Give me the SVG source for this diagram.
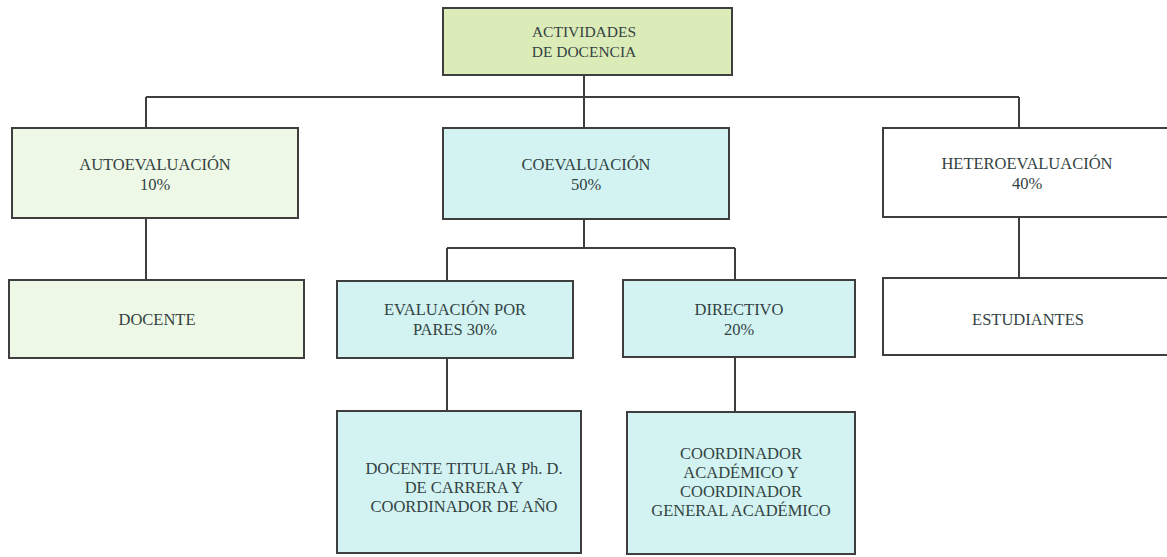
<svg xmlns="http://www.w3.org/2000/svg" width="1167" height="557" viewBox="0 0 1167 557">
<style>
.box{stroke:#3e3e3e;stroke-width:2}
.g1{fill:#dcecb8}
.g2{fill:#eef8e6}
.c{fill:#d2f3f2}
.w{fill:#ffffff}
.t{font-family:"Liberation Serif","DejaVu Serif",serif;font-size:16.5px;fill:#334242;text-anchor:middle}
.s{font-size:15.5px}
.ln{stroke:#3e3e3e;stroke-width:2;fill:none}
</style>
<rect width="1167" height="557" fill="#ffffff"/>
<g id="connectors">
<path class="ln" d="M584 75V97M146 97H1019M146 97V128M584 97V128M1019 97V128"/>
<path class="ln" d="M146 218V280"/>
<path class="ln" d="M584 219V248M447 248H735M447 248V281M735 248V280"/>
<path class="ln" d="M1019 217V278"/>
<path class="ln" d="M447 358V411"/>
<path class="ln" d="M735 357V412"/>
</g>
<g id="n-actividades">
<rect class="box g1" x="443" y="8" width="289" height="67"/>
<text class="t s" x="584" y="37">ACTIVIDADES</text>
<text class="t s" x="584" y="57">DE DOCENCIA</text>
</g>
<g id="n-auto">
<rect class="box g2" x="12" y="128" width="286" height="90"/>
<text class="t" x="155" y="170">AUTOEVALUACIÓN</text>
<text class="t" x="155" y="190">10%</text>
</g>
<g id="n-coev">
<rect class="box c" x="443" y="128" width="286" height="91"/>
<text class="t" x="586" y="170">COEVALUACIÓN</text>
<text class="t" x="586" y="190">50%</text>
</g>
<g id="n-hetero">
<rect class="box w" x="883" y="128" width="300" height="89"/>
<text class="t" x="1027" y="169">HETEROEVALUACIÓN</text>
<text class="t" x="1027" y="189">40%</text>
</g>
<g id="n-docente">
<rect class="box g2" x="9" y="280" width="295" height="78"/>
<text class="t" x="157" y="325">DOCENTE</text>
</g>
<g id="n-pares">
<rect class="box c" x="337" y="281" width="236" height="77"/>
<text class="t" x="455" y="315">EVALUACIÓN POR</text>
<text class="t" x="455" y="335">PARES 30%</text>
</g>
<g id="n-directivo">
<rect class="box c" x="623" y="280" width="232" height="77"/>
<text class="t" x="739" y="315">DIRECTIVO</text>
<text class="t" x="739" y="335">20%</text>
</g>
<g id="n-estudiantes">
<rect class="box w" x="883" y="278" width="300" height="77"/>
<text class="t" x="1028" y="325">ESTUDIANTES</text>
</g>
<g id="n-titular">
<rect class="box c" x="337" y="411" width="244" height="142"/>
<text class="t" x="464" y="474">DOCENTE TITULAR Ph. D.</text>
<text class="t" x="464" y="493">DE CARRERA Y</text>
<text class="t" x="464" y="512">COORDINADOR DE AÑO</text>
</g>
<g id="n-coord">
<rect class="box c" x="627" y="412" width="228" height="142"/>
<text class="t" x="741" y="459">COORDINADOR</text>
<text class="t" x="741" y="478">ACADÉMICO Y</text>
<text class="t" x="741" y="497">COORDINADOR</text>
<text class="t" x="741" y="516">GENERAL ACADÉMICO</text>
</g>
</svg>
